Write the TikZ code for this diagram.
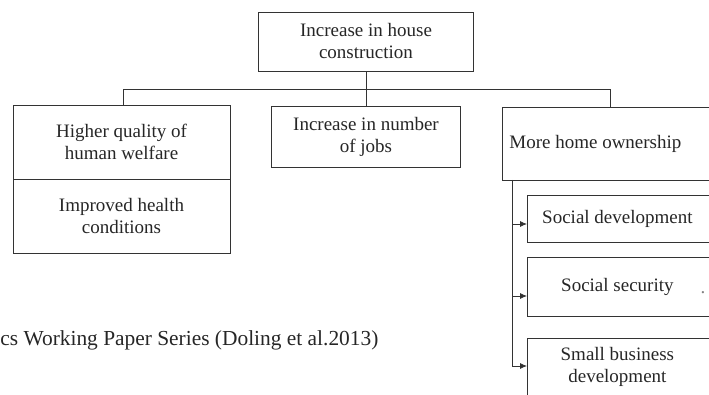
\documentclass[tikz,border=0pt]{standalone}
\usepackage{fontspec}
\setmainfont{Liberation Serif}
\usetikzlibrary{arrows.meta}

\tikzset{
    box/.style={draw, align=center, inner sep=0pt},
    openbox/.style={draw, anchor=west, inner xsep=0pt, inner ysep=0pt},
    arr/.style={-{Latex[length=7pt,width=6pt]}}
}
% text centred in the visible part of a box that runs off the page
\newcommand{\opencell}[2]{\parbox{#1}{\centering #2}\rule{60pt}{0pt}}

\begin{document}
\begin{tikzpicture}[x=1pt, y=1pt, line width=0.8pt, draw=black!80, text=black!85,
        font=\fontsize{19}{22}\selectfont]
        \useasboundingbox (0, 0) rectangle (709, -395);
        \clip (0, 0) rectangle (709, -395);

        \begin{scope}
            % Top
            \node[box, minimum width=215, minimum height=59] (top) at (366, -41.5) {Increase in house\\construction};

            % Second row
            \node[box, minimum width=217, minimum height=74] (welfare) at (121.5, -142) {Higher quality of\\human welfare};
            \node[box, minimum width=217, minimum height=74] (health) at (121.5, -216) {Improved health\\conditions};
            \node[box, minimum width=189, minimum height=61] (jobs) at (366, -136.5) {Increase in number\\of jobs};
            \node[openbox, minimum height=73] (own) at (502, -143.5) {\opencell{186pt}{More home ownership}};

            % Connect Nodes
            \coordinate (busL) at (123, -89);
            \coordinate (busR) at (610, -89);
            \draw (top.south) -- (jobs.north);
            \draw (welfare.north -| busL) -- (busL) -- (busR) -- (busR |- own.north);
        \end{scope}

        \begin{scope}
            % Results of home ownership
            \node[openbox, minimum height=47] (social) at (527, -218.5) {\opencell{180pt}{Social development}};
            \node[openbox, minimum height=59] (security) at (527, -286.5) {\opencell{180pt}{Social security}};
            \node[openbox, minimum height=58] (business) at (527, -367) {\opencell{180pt}{Small business\\development}};
            \node[text=black!50] (speck) at (703, -293) {.};

            % Connect Nodes
            \coordinate (trunk) at (512, -180);
            \coordinate (b1) at (512, -224);
            \coordinate (b2) at (512, -296);
            \coordinate (b3) at (512, -366);
            \draw (trunk) -- (b3);
            \draw[arr] (b1) -- (b1 -| social.west);
            \draw[arr] (b2) -- (b2 -| security.west);
            \draw[arr] (b3) -- (b3 -| business.west);
        \end{scope}

        % Source
        \node[anchor=west, inner sep=0pt, font=\fontsize{21.4}{24}\selectfont] (source) at (0, -340) {cs Working Paper Series (Doling et al.2013)};
    \end{tikzpicture}
\end{document}
